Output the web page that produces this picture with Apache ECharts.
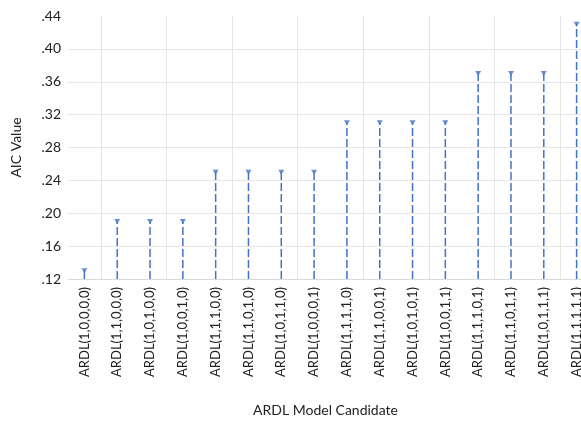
<!DOCTYPE html>
<html>
<head>
<meta charset="utf-8">
<script src="https://cdn.jsdelivr.net/npm/echarts@6/dist/echarts.min.js"></script>
<style>
  html, body { margin: 0; padding: 0; background: #fff; }
  #chart { width: 581px; height: 426px; }
</style>
</head>
<body>
<div id="chart"></div>
<script>
const models = [
  "ARDL(1,0,0,0,0)", "ARDL(1,1,0,0,0)", "ARDL(1,0,1,0,0)", "ARDL(1,0,0,1,0)",
  "ARDL(1,1,1,0,0)", "ARDL(1,1,0,1,0)", "ARDL(1,0,1,1,0)", "ARDL(1,0,0,0,1)",
  "ARDL(1,1,1,1,0)", "ARDL(1,1,0,0,1)", "ARDL(1,0,1,0,1)", "ARDL(1,0,0,1,1)",
  "ARDL(1,1,1,0,1)", "ARDL(1,1,0,1,1)", "ARDL(1,0,1,1,1)", "ARDL(1,1,1,1,1)"
];
const aicValues = [
  0.13, 0.19, 0.19, 0.19,
  0.25, 0.25, 0.25, 0.25,
  0.31, 0.31, 0.31, 0.31,
  0.37, 0.37, 0.37, 0.43
];
const yMin = 0.12;
const yMax = 0.44;
const yStep = 0.04;

const chart = echarts.init(document.getElementById("chart"));
const blue = "#4472C4";
const fontFamily = "Lato, 'Open Sans', sans-serif";

chart.setOption({
  animation: false,
  grid: { left: 68, top: 16, width: 525, height: 263, outerBoundsMode: "none", containLabel: false },
  xAxis: {
    type: "category",
    data: models,
    name: "ARDL Model Candidate",
    nameLocation: "middle",
    nameGap: 124,
    nameTextStyle: { fontFamily, fontSize: 14, color: "#222", padding: [0, 10, 0, 0] },
    axisLine: { lineStyle: { color: "#d9d9d9" } },
    axisTick: { show: false },
    axisLabel: {
      rotate: 90,
      margin: 8,
      interval: 0,
      fontFamily,
      fontSize: 13,
      color: "#222",
    },
    splitLine: {
      show: true,
      interval: (index) => index % 2 === 1,
      lineStyle: { color: "#e6e6e6" },
    },
  },
  yAxis: {
    type: "value",
    min: yMin,
    max: yMax,
    interval: yStep,
    name: "AIC Value",
    nameLocation: "middle",
    nameGap: 45,
    nameTextStyle: { fontFamily, fontSize: 14, color: "#222" },
    axisLine: { show: false },
    axisTick: { show: false },
    axisLabel: {
      margin: 7,
      fontFamily,
      fontSize: 14,
      color: "#222",
      formatter: (v) => v.toFixed(2).replace(/^0/, ""),
    },
    splitLine: {
      show: true,
      showMaxLine: false,
      lineStyle: { color: "#e6e6e6" },
    },
  },
  series: [
    {
      type: "custom",
      data: aicValues.map((v, i) => [i, v]),
      renderItem: (params, api) => {
        const top = api.coord([api.value(0), api.value(1)]);
        const base = api.coord([api.value(0), yMin]);
        return {
          type: "line",
          shape: { x1: base[0], y1: base[1], x2: top[0], y2: top[1] },
          style: { stroke: blue, lineWidth: 1.5, lineDash: [8, 3] },
        };
      },
      z: 2,
    },
    {
      type: "scatter",
      data: aicValues.map((v, i) => [i, v]),
      symbol: "triangle",
      symbolRotate: 180,
      symbolSize: [6, 5],
      itemStyle: { color: blue },
      z: 3,
    },
  ],
});
</script>
</body>
</html>
